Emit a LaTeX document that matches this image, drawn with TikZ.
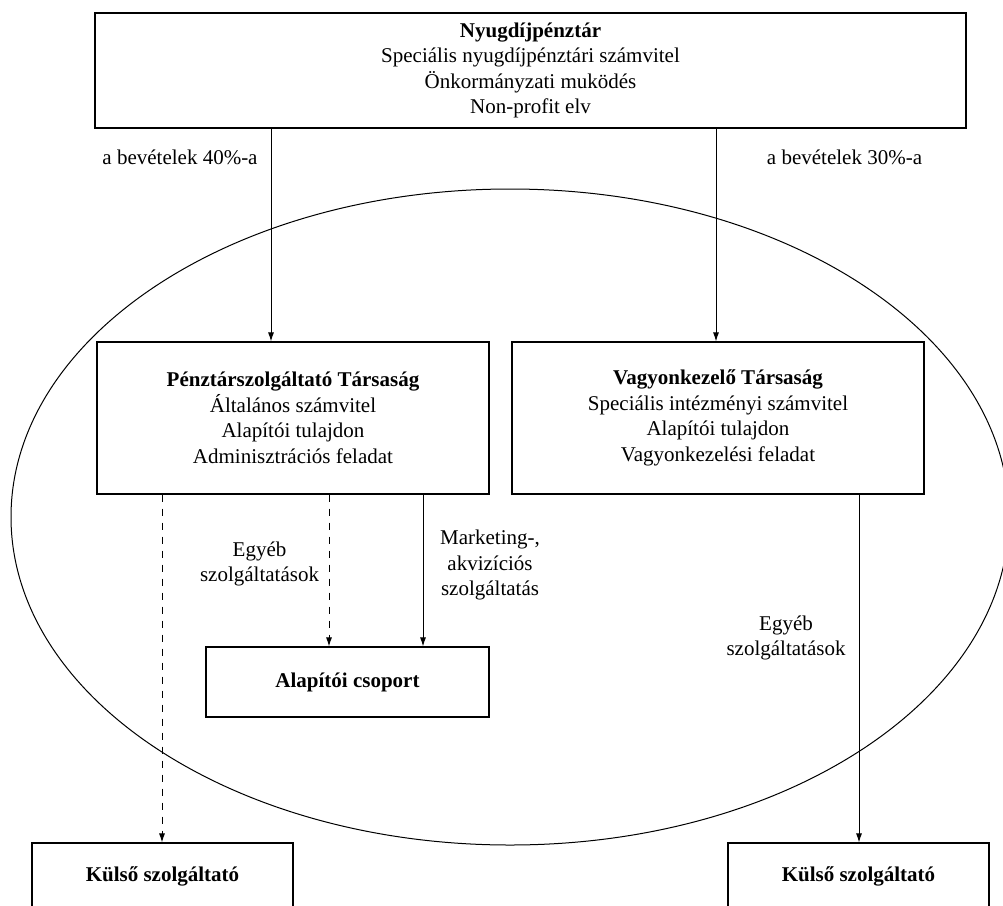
\documentclass[tikz,border=0pt]{standalone}
\usepackage{fontspec}
\setmainfont{Liberation Serif}
\usetikzlibrary{arrows.meta}
\begin{document}
\begin{tikzpicture}[x=1pt,y=-1pt,
  every node/.style={font=\fontsize{21}{25.5}\selectfont, text=black},
  box/.style={draw, line width=1.1pt, inner sep=0pt, align=center},
  arr/.style={line width=1pt, -{Latex[length=9pt,width=6pt]}},
  dsh/.style={arr, dash pattern=on 7pt off 7pt},
  lbl/.style={align=center, inner sep=0pt}]
\useasboundingbox (0,0) rectangle (1003,905);
\clip (0,0) rectangle (1003,905);
% ellipse
\draw[line width=1pt] (510,517) ellipse [x radius=499pt, y radius=328pt];
% boxes
\node[box, minimum width=871pt, minimum height=115pt] (top) at (530.5,70.5)
  {\textbf{Nyugdíjpénztár}\\Speciális nyugdíjpénztári számvitel\\Önkormányzati muködés\\Non-profit elv};
\node[box, minimum width=392pt, minimum height=152pt] (ps) at (293,418)
  {\textbf{Pénztárszolgáltató Társaság}\\Általános számvitel\\Alapítói tulajdon\\Adminisztrációs feladat};
\node[box, minimum width=412pt, minimum height=152pt] (vk) at (718,418)
  {\textbf{Vagyonkezelő Társaság}\\Speciális intézményi számvitel\\Alapítói tulajdon\\Vagyonkezelési feladat};
\node[box, minimum width=283pt, minimum height=70pt] (ap) at (347.5,682)
  {\textbf{Alapítói csoport}};
\node[box, minimum width=261pt, minimum height=66pt] (k1) at (162.5,876)
  {\textbf{Külső szolgáltató}};
\node[box, minimum width=261pt, minimum height=66pt] (k2) at (858.5,876)
  {\textbf{Külső szolgáltató}};
% helper x positions
\coordinate (c1) at (271,0);
\coordinate (c2) at (716,0);
\coordinate (c3) at (162,0);
\coordinate (c4) at (329,0);
\coordinate (c5) at (423,0);
\coordinate (c6) at (859,0);
% connectors
\draw[arr] (top.south -| c1) -- (ps.north -| c1);
\draw[arr] (top.south -| c2) -- (vk.north -| c2);
\draw[dsh] (ps.south -| c3) -- (k1.north -| c3);
\draw[dsh] (ps.south -| c4) -- (ap.north -| c4);
\draw[arr] (ps.south -| c5) -- (ap.north -| c5);
\draw[arr] (vk.south -| c6) -- (k2.north -| c6);
% labels
\node[lbl] (l1) at (180,157) {a bevételek 40\%-a};
\node[lbl] (l2) at (844.5,157) {a bevételek 30\%-a};
\node[lbl] (l3) at (259.5,564) {Egyéb\\szolgáltatások};
\node[lbl] (l4) at (490,565) {Marketing-,\\akvizíciós\\szolgáltatás};
\node[lbl] (l5) at (786,638) {Egyéb\\szolgáltatások};
\end{tikzpicture}
\end{document}
